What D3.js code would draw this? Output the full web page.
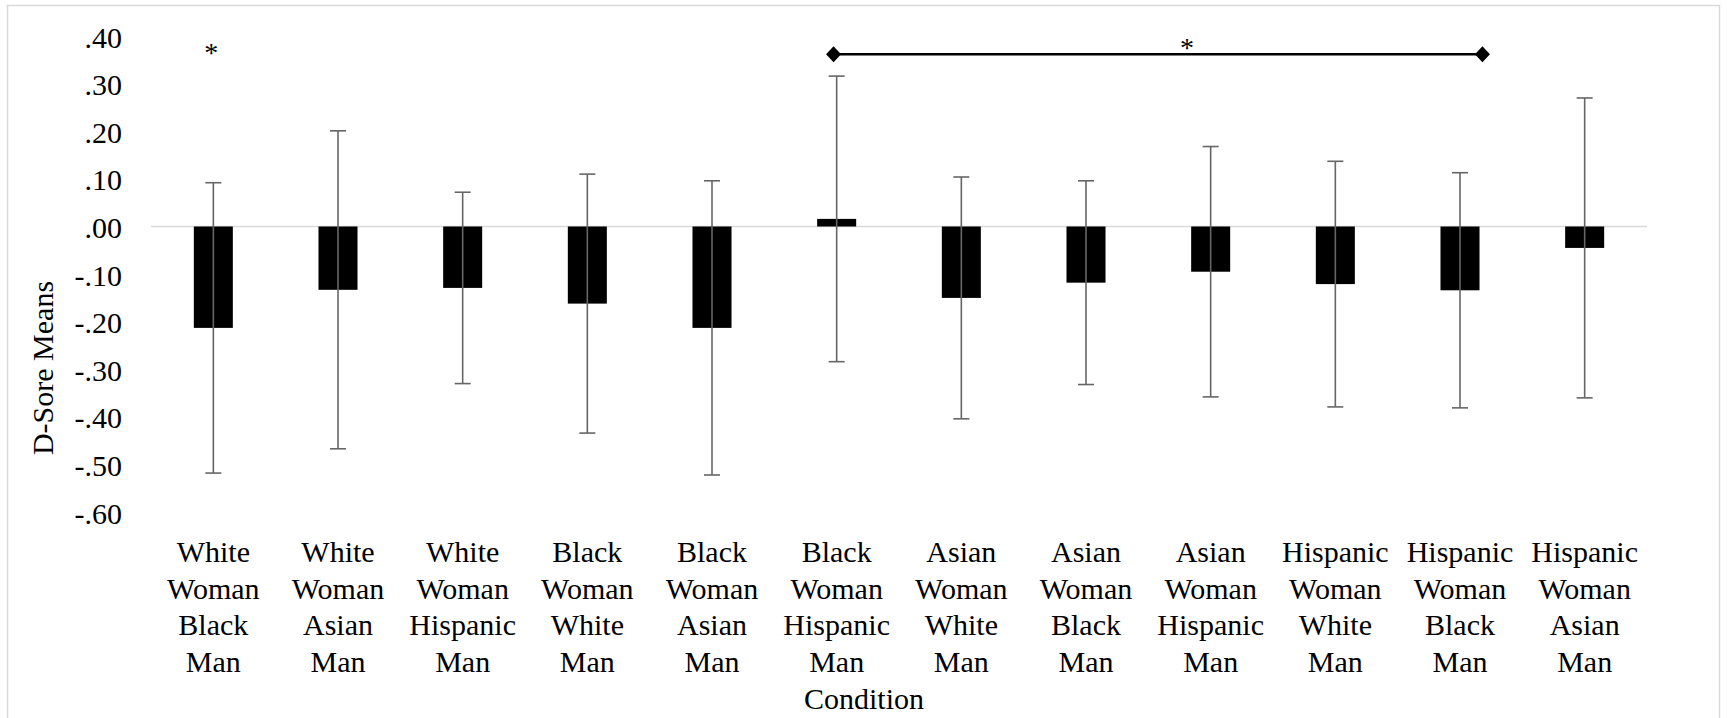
<!DOCTYPE html>
<html>
<head>
<meta charset="utf-8">
<script src="https://cdn.jsdelivr.net/npm/d3@7"></script>
<style>
  html, body { margin: 0; padding: 0; background: #fff; }
  svg { display: block; }
  text { font-family: "Liberation Serif", "Times New Roman", serif; fill: #000; }
</style>
</head>
<body>
<svg id="chart" width="1727" height="718"></svg>
<script>
// Condition labels (woman target / man target), one bar per condition
const categories = [
  "White Woman Black Man", "White Woman Asian Man", "White Woman Hispanic Man",
  "Black Woman White Man", "Black Woman Asian Man", "Black Woman Hispanic Man",
  "Asian Woman White Man", "Asian Woman Black Man", "Asian Woman Hispanic Man",
  "Hispanic Woman White Man", "Hispanic Woman Black Man", "Hispanic Woman Asian Man"
];
// Mean D-scores per condition
const means = [-0.213, -0.133, -0.129, -0.162, -0.213, 0.016, -0.150, -0.118, -0.095, -0.121, -0.134, -0.045];
// Standard deviations shown as error bars
const errors = [0.305, 0.334, 0.201, 0.272, 0.309, 0.300, 0.254, 0.214, 0.263, 0.258, 0.247, 0.315];
// Y axis tick values
const yTicks = [0.4, 0.3, 0.2, 0.1, 0.0, -0.1, -0.2, -0.3, -0.4, -0.5, -0.6];
// Significance markers: single star over a condition, and a bracket between two conditions
const singleStars = [{ index: 0, frac: 0.5, level: 0.372 }];
const bracket = { from: 5, fromFrac: 0.475, to: 10, toFrac: 0.68, level: 0.362, starIndex: 8, starFrac: 0.31, starLevel: 0.383 };

const svg = d3.select("#chart");

// chart frame
svg.append("rect")
  .attr("x", 7.5).attr("y", 5.5)
  .attr("width", 1712).attr("height", 726)
  .attr("fill", "none").attr("stroke", "#d9d9d9").attr("stroke-width", 1.5);

const plotLeft = 151, plotRight = 1647;
const x = d3.scaleBand().domain(categories).range([plotLeft, plotRight]).padding(0);
const y = d3.scaleLinear().domain([-0.6, 0.4]).range([512.1, 36.1]);
const bw = x.bandwidth();
const barW = bw * 0.313;
const xAt = (i, f) => x(categories[i]) + f * bw;

const fs = 30;
// ".40", ".00", "-.10" style: two decimals, no leading zero, ASCII hyphen
const fmt = v => {
  const r = Math.round(v * 100) / 100;
  return (r < 0 ? "-" : "") + Math.abs(r).toFixed(2).replace(/^0/, "");
};

// y tick labels (no axis line or tick marks)
const yAxis = d3.axisLeft(y).tickValues(yTicks).tickFormat(fmt).tickSize(0).tickPadding(0);
const yG = svg.append("g").attr("transform", `translate(122,0)`).call(yAxis);
yG.select(".domain").remove();
yG.attr("font-family", null).attr("font-size", null);
yG.selectAll("text")
  .attr("font-size", fs)
  .attr("fill", "#000")
  .attr("dy", null)
  .attr("y", 11)
  .attr("x", 0)
  .attr("text-anchor", "end");

// zero line
svg.append("line")
  .attr("x1", plotLeft).attr("x2", plotRight)
  .attr("y1", y(0)).attr("y2", y(0))
  .attr("stroke", "#d9d9d9").attr("stroke-width", 1.5);

// bars
svg.append("g").selectAll("rect")
  .data(categories)
  .join("rect")
  .attr("x", (d) => x(d) + bw / 2 - barW / 2)
  .attr("width", barW)
  .attr("y", (d, i) => y(Math.max(0, means[i])))
  .attr("height", (d, i) => Math.abs(y(means[i]) - y(0)))
  .attr("fill", "#000");

// error bars
const eb = svg.append("g").attr("stroke", "#666").attr("stroke-width", 1.6);
categories.forEach((c, i) => {
  const cx = x(c) + bw / 2;
  const hi = y(means[i] + errors[i]);
  const lo = y(means[i] - errors[i]);
  eb.append("line").attr("x1", cx).attr("x2", cx).attr("y1", hi).attr("y2", lo);
  eb.append("line").attr("x1", cx - 8).attr("x2", cx + 8).attr("y1", hi).attr("y2", hi);
  eb.append("line").attr("x1", cx - 8).attr("x2", cx + 8).attr("y1", lo).attr("y2", lo);
});

// category labels, one word per line
const lineGap = 36.6;
const firstBase = 562;
const xl = svg.append("g");
categories.forEach((c) => {
  const t = xl.append("text")
    .attr("x", x(c) + bw / 2)
    .attr("y", firstBase)
    .attr("text-anchor", "middle")
    .attr("font-size", fs);
  c.split(" ").forEach((w, k) => {
    t.append("tspan").attr("x", x(c) + bw / 2).attr("y", firstBase + k * lineGap).text(w);
  });
});

// axis titles
svg.append("text")
  .attr("x", 864).attr("y", 709)
  .attr("text-anchor", "middle")
  .attr("font-size", fs)
  .text("Condition");

svg.append("text")
  .attr("transform", "translate(53,368) rotate(-90)")
  .attr("text-anchor", "middle")
  .attr("font-size", fs)
  .text("D-Sore Means");

// significance markers
const starFs = 28;
singleStars.forEach(s => {
  svg.append("text")
    .attr("x", xAt(s.index, s.frac) - 2)
    .attr("y", y(s.level) + 13)
    .attr("text-anchor", "middle")
    .attr("font-size", starFs)
    .text("*");
});

const bx1 = xAt(bracket.from, bracket.fromFrac);
const bx2 = xAt(bracket.to, bracket.toFrac);
const by = y(bracket.level);
svg.append("line")
  .attr("x1", bx1).attr("x2", bx2).attr("y1", by).attr("y2", by)
  .attr("stroke", "#000").attr("stroke-width", 2.6);
[bx1, bx2].forEach(px => {
  svg.append("path")
    .attr("d", `M${px - 7.5},${by} L${px},${by - 8} L${px + 7.5},${by} L${px},${by + 8} Z`)
    .attr("fill", "#000");
});
svg.append("text")
  .attr("x", xAt(bracket.starIndex, bracket.starFrac))
  .attr("y", y(bracket.starLevel) + 13)
  .attr("text-anchor", "middle")
  .attr("font-size", starFs)
  .text("*");
</script>
</body>
</html>
